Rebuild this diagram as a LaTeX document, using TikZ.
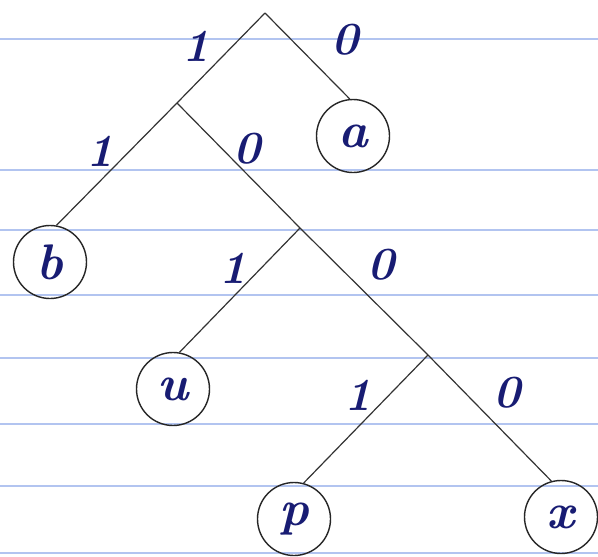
\documentclass[tikz,border=0pt]{standalone}
\begin{document}
\begin{tikzpicture}[x=1pt,y=-1pt,
  paperline/.style={draw=rulecol,line width=2pt},
  edge/.style={draw=black!80,line width=1.2pt},
  leaf/.style={circle,draw=black!85,line width=1.4pt,minimum size=73pt,inner sep=0pt,
    text=inkcol,font=\fontsize{50}{50}\selectfont\bfseries\itshape},
  bit/.style={text=inkcol,font=\fontsize{46}{46}\selectfont\bfseries\itshape,inner sep=0pt}]
\definecolor{rulecol}{RGB}{178,196,240}
\definecolor{inkcol}{RGB}{24,28,115}
\useasboundingbox (0,0) rectangle (598,557);
\fill[white] (0,0) rectangle (598,557);
% ruled paper
\foreach \yy in {39,170,230,295,358,424,486,553}
  \draw[paperline] (0,\yy) -- (598,\yy);
% internal points
\coordinate (r) at (265,13);
\coordinate (n1) at (177,103);
\coordinate (n2) at (300,228);
\coordinate (n3) at (428,355);
% leaves
\node[leaf] (a) at (353,136) {a};
\node[leaf] (b) at (50,262) {b};
\node[leaf] (u) at (173,389) {u};
\node[leaf] (p) at (294,519) {p};
\node[leaf] (x) at (561,517) {x};
% edges
\draw[edge] (r) -- (n1);
\draw[edge] (r) -- (a.95);
\draw[edge] (n1) -- (b.80);
\draw[edge] (n1) -- (n2);
\draw[edge] (n2) -- (u.80);
\draw[edge] (n2) -- (n3);
\draw[edge] (n3) -- (p.75);
\draw[edge] (n3) -- (x.105);
% bit labels
\node[bit] (l1) at (196,46) {1};
\node[bit] (l2) at (345,40) {0};
\node[bit] (l3) at (100,151) {1};
\node[bit] (l4) at (247,149) {0};
\node[bit] (l5) at (233,268) {1};
\node[bit] (l6) at (381,265) {0};
\node[bit] (l7) at (358,395) {1};
\node[bit] (l8) at (507,393) {0};
\end{tikzpicture}
\end{document}
